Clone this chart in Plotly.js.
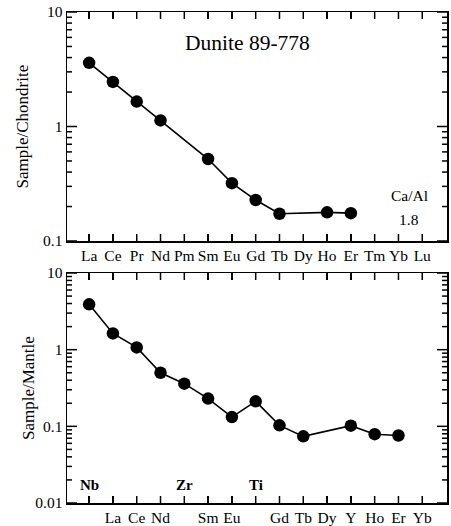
<!DOCTYPE html>
<html>
<head>
<meta charset="utf-8">
<script src="https://cdn.plot.ly/plotly-3.0.1.min.js"></script>
<style>html,body{margin:0;padding:0;background:#fff;}#chart{width:451px;height:526px;}</style>
</head>
<body>
<div id="chart"></div>
<script>
// Top panel: REE normalised to chondrite
const reeLabels = ["La","Ce","Pr","Nd","Pm","Sm","Eu","Gd","Tb","Dy","Ho","Er","Tm","Yb","Lu"];
const reeX = [0, 1, 2, 3, 5, 6, 7, 8, 10, 11];
const reeValues = [3.6, 2.45, 1.65, 1.13, 0.52, 0.32, 0.228, 0.173, 0.178, 0.175];

// Bottom panel: spider diagram normalised to mantle
const spiderLabels = ["Nb","La","Ce","Nd","Zr","Sm","Eu","Ti","Gd","Tb","Dy","Y","Ho","Er","Yb"];
const spiderBold = ["Nb","Zr","Ti"];
const spiderX = [0, 1, 2, 3, 4, 5, 6, 7, 8, 9, 11, 12, 13];
const spiderValues = [3.9, 1.63, 1.07, 0.50, 0.36, 0.23, 0.132, 0.212, 0.103, 0.074, 0.102, 0.079, 0.076];

const yTickVals = [0.01, 0.1, 1, 10];
const yTickText = ["0.01", "0.1", "1", "10"];
const minorDigits = [2, 3, 4, 5, 6, 7, 8, 9];

const font = {family: "Liberation Serif, Times New Roman, serif", color: "#000"};
const idx = reeLabels.map((_, i) => i);

const marker = {size: 12.5, color: "#000"};
const line = {color: "#000", width: 1.6};

const traces = [
  {x: reeX, y: reeValues, type: "scatter", mode: "lines+markers", marker: marker, line: line, xaxis: "x", yaxis: "y", showlegend: false, hoverinfo: "skip"},
  {x: spiderX, y: spiderValues, type: "scatter", mode: "lines+markers", marker: marker, line: line, xaxis: "x2", yaxis: "y2", showlegend: false, hoverinfo: "skip"}
];

const xRange = [-0.93, 15.04];
const xBase = {
  range: xRange, tickmode: "array", tickvals: idx, ticks: "inside", ticklen: 7, tickwidth: 1.5, tickcolor: "#000",
  showline: true, linecolor: "#000", linewidth: 1.5, mirror: "allticks", showgrid: false, zeroline: false,
  tickfont: Object.assign({size: 15.5}, font), fixedrange: true
};
const yBase = {
  type: "log", tickmode: "array", tickvals: yTickVals, ticktext: yTickText, ticks: "inside", ticklen: 10, tickwidth: 1.5, tickcolor: "#000",
  showline: true, linecolor: "#000", linewidth: 1.5, mirror: "allticks", showgrid: false, zeroline: false,
  tickfont: Object.assign({size: 15.5}, font), fixedrange: true
};

// Explicit tick marks (axis decoration) placed on each axis through its domain
const plotW = 380;
function tickShapes(xa, ya, logRange, plotH) {
  const shapes = [];
  const ln = {color: "#000", width: 1.5};
  const xl = 7 / plotH;
  idx.forEach(i => {
    shapes.push({type: "line", xref: xa, yref: ya + " domain", x0: i, x1: i, y0: 0, y1: xl, line: ln, layer: "above"});
    shapes.push({type: "line", xref: xa, yref: ya + " domain", x0: i, x1: i, y0: 1, y1: 1 - xl, line: ln, layer: "above"});
  });
  const span = logRange[1] - logRange[0];
  for (let d = logRange[0]; d <= logRange[1]; d++) {
    const f = (d - logRange[0]) / span;
    const L = 10 / plotW;
    shapes.push({type: "line", xref: xa + " domain", yref: ya + " domain", x0: 0, x1: L, y0: f, y1: f, line: ln, layer: "above"});
    shapes.push({type: "line", xref: xa + " domain", yref: ya + " domain", x0: 1, x1: 1 - L, y0: f, y1: f, line: ln, layer: "above"});
    if (d < logRange[1]) {
      minorDigits.forEach(m => {
        const fm = (d + Math.log10(m) - logRange[0]) / span;
        const l = 5 / plotW;
        shapes.push({type: "line", xref: xa + " domain", yref: ya + " domain", x0: 0, x1: l, y0: fm, y1: fm, line: ln, layer: "above"});
        shapes.push({type: "line", xref: xa + " domain", yref: ya + " domain", x0: 1, x1: 1 - l, y0: fm, y1: fm, line: ln, layer: "above"});
      });
    }
  }
  return shapes;
}

const topLog = [-1, 1];
const botLog = [-2, 1];

const layout = {
  width: 451, height: 526,
  margin: {l: 67, r: 4, t: 12, b: 23},
  paper_bgcolor: "#fff", plot_bgcolor: "rgba(0,0,0,0)",
  font: font,
  xaxis: Object.assign({}, xBase, {domain: [0, 1], anchor: "y", ticktext: reeLabels}),
  yaxis: Object.assign({}, yBase, {domain: [0.5336, 1], anchor: "x", range: topLog}),
  xaxis2: Object.assign({}, xBase, {domain: [0, 1], anchor: "y2",
    ticktext: spiderLabels.map(s => spiderBold.includes(s) ? "" : s)}),
  yaxis2: Object.assign({}, yBase, {domain: [0, 0.4684], anchor: "x2", range: botLog}),
  shapes: tickShapes("x", "y", topLog, 229).concat(tickShapes("x2", "y2", botLog, 230)),
  annotations: [
    {text: "Sample/Chondrite", xref: "paper", yref: "y domain", x: -0.1158, y: 0.5, textangle: -90, showarrow: false,
     font: Object.assign({size: 17}, font), xanchor: "center", yanchor: "middle"},
    {text: "Sample/Mantle", xref: "paper", yref: "y2 domain", x: -0.1026, y: 0.5, textangle: -90, showarrow: false,
     font: Object.assign({size: 17}, font), xanchor: "center", yanchor: "middle"},
    {text: "Dunite 89-778", xref: "x domain", yref: "y domain", x: 0.476, y: 0.865, showarrow: false,
     font: Object.assign({size: 21.5}, font), xanchor: "center", yanchor: "middle"},
    {text: "Ca/Al", xref: "x domain", yref: "y domain", x: 0.9, y: 0.2, showarrow: false,
     font: Object.assign({size: 15.5}, font), xanchor: "center", yanchor: "middle"},
    {text: "1.8", xref: "x domain", yref: "y domain", x: 0.9, y: 0.096, showarrow: false,
     font: Object.assign({size: 15.5}, font), xanchor: "center", yanchor: "middle"}
  ].concat(spiderBold.map(s => ({
    text: "<b>" + s + "</b>", xref: "x2", yref: "y2 domain", x: spiderLabels.indexOf(s), y: 0.078,
    showarrow: false, font: Object.assign({size: 15}, font), xanchor: "center", yanchor: "middle"
  })))
};

Plotly.newPlot("chart", traces, layout, {displayModeBar: false, staticPlot: true});
</script>
</body>
</html>
